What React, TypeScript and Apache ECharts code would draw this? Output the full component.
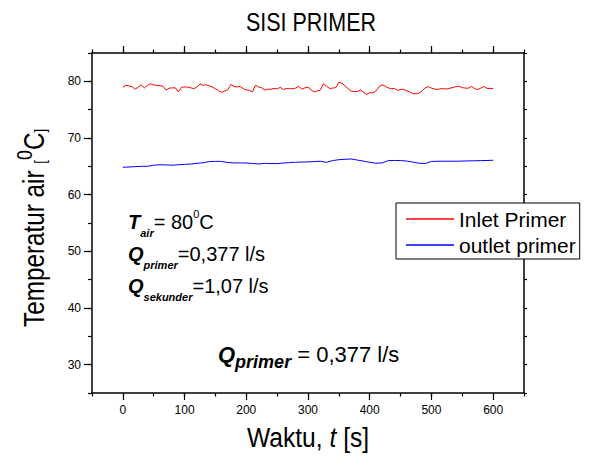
import { useEffect, useRef } from "react";
import * as echarts from "echarts";

// Measured temperatures, sampled every 5 s (inlet) and every 10 s (outlet)
const inletStep = 5;
const inletPrimer = [
  78.95, 79.3, 79.2, 79.05, 78.6, 79.0, 79.35, 78.85, 79.3, 79.55,
  79.35, 79.3, 79.25, 79.1, 78.45, 78.8, 78.85, 78.85, 78.15, 78.95,
  79.0, 79.0, 78.85, 78.7, 79.0, 79.55, 79.3, 79.4, 79.2, 79.0,
  78.7, 78.35, 78.05, 78.3, 78.5, 79.45, 79.1, 79.0, 79.1, 78.7,
  78.5, 78.4, 78.15, 79.3, 79.0, 78.85, 78.45, 78.6, 78.6, 78.75,
  78.65, 78.95, 78.55, 78.75, 78.7, 78.7, 78.8, 79.1, 78.6, 78.85,
  79.0, 78.5, 78.1, 78.3, 78.45, 79.55, 79.15, 78.75, 78.8, 78.9,
  79.85, 79.65, 79.2, 78.7, 78.25, 78.2, 78.2, 78.45, 78.1, 77.7,
  78.0, 77.95, 78.3, 79.0, 79.4, 79.15, 78.85, 78.7, 78.75, 78.4,
  78.55, 78.6, 78.35, 78.1, 77.85, 77.8, 77.95, 78.3, 78.85, 79.05,
  78.8, 78.65, 78.55, 78.7, 78.7, 78.65, 78.8, 78.9, 79.1, 79.1,
  78.9, 78.8, 78.8, 79.1, 78.7, 78.55, 78.8, 79.1, 78.75, 78.75,
  78.7,
];

const outletStep = 10;
const outletPrimer = [
  64.84, 64.88, 64.95, 65.0, 65.01, 65.2, 65.28, 65.25, 65.2, 65.28,
  65.35, 65.4, 65.54, 65.62, 65.84, 65.88, 65.86, 65.68, 65.6, 65.6,
  65.58, 65.5, 65.42, 65.52, 65.5, 65.48, 65.58, 65.66, 65.72, 65.76,
  65.78, 65.84, 65.9, 65.7, 66.02, 66.17, 66.25, 66.3, 66.1, 65.92,
  65.72, 65.55, 65.6, 66.0, 66.04, 66.02, 65.93, 65.75, 65.55, 65.5,
  65.86, 65.9, 65.9, 65.9, 65.9, 65.93, 65.96, 65.98, 66.01, 66.03,
  66.07,
];

const seriesNames = ["Inlet Primer", "outlet primer"];
const seriesColors = ["#ff0000", "#0000ff"];
const xMajorTicks = [0, 100, 200, 300, 400, 500, 600];
const yMajorTicks = [30, 40, 50, 60, 70, 80];

const FONT = "Arial, 'Liberation Sans', sans-serif";
const INK = "#000";

const frameLine = { show: true, onZero: false, lineStyle: { color: INK, width: 1.5 } };
const tickStyle = { color: INK, width: 1.2 };

function toPairs(values: number[], step: number) {
  return values.map((v, i) => [i * step, v]);
}

export default function App() {
  const ref = useRef<HTMLDivElement>(null);

  useEffect(() => {
    if (!ref.current) return;
    const chart = echarts.init(ref.current, undefined, { renderer: "svg" });

    const xBase = { type: "value" as const, min: -50, max: 650, splitLine: { show: false } };
    const yBase = { type: "value" as const, min: 25, max: 85, splitLine: { show: false } };

    const bi = { fontFamily: FONT, fontWeight: "bold", fontStyle: "italic", fill: INK };
    const rg = { fontFamily: FONT, fill: INK };

    const noteRich = {
      q: { ...bi, fontSize: 20, padding: [4, 0, 6, 0], verticalAlign: "middle" },
      sub: { ...bi, fontSize: 11, verticalAlign: "bottom" },
      r: { ...rg, fontSize: 20, padding: [4, 0, 6, 0], verticalAlign: "middle" },
      sup: { ...rg, fontSize: 11, verticalAlign: "top" },
    };

    chart.setOption({
      animation: false,
      backgroundColor: "#fff",
      grid: { left: 92, right: 65, top: 53, bottom: 64, containLabel: false },
      xAxis: [
        {
          ...xBase, position: "bottom", interval: 50,
          axisLine: frameLine,
          axisTick: { show: true, length: 3.5, lineStyle: tickStyle },
          axisLabel: { show: false },
        },
        {
          ...xBase, position: "bottom",
          axisLine: { show: false, onZero: false },
          axisTick: { show: true, length: 7, customValues: xMajorTicks, lineStyle: tickStyle },
          axisLabel: { show: true, customValues: xMajorTicks, margin: 11, fontSize: 12, color: INK, fontFamily: FONT },
        },
        {
          ...xBase, position: "top", interval: 50,
          axisLine: frameLine,
          axisTick: { show: true, length: 3.5, lineStyle: tickStyle },
          axisLabel: { show: false },
        },
        {
          ...xBase, position: "top",
          axisLine: { show: false, onZero: false },
          axisTick: { show: true, length: 7, customValues: xMajorTicks, lineStyle: tickStyle },
          axisLabel: { show: false },
        },
      ],
      yAxis: [
        {
          ...yBase, position: "left", interval: 5,
          axisLine: frameLine,
          axisTick: { show: true, length: 4, lineStyle: tickStyle },
          axisLabel: { show: false },
        },
        {
          ...yBase, position: "left",
          axisLine: { show: false, onZero: false },
          axisTick: { show: true, length: 8, customValues: yMajorTicks, lineStyle: tickStyle },
          axisLabel: { show: true, customValues: yMajorTicks, margin: 11, fontSize: 12, color: INK, fontFamily: FONT },
        },
        {
          ...yBase, position: "right", interval: 5,
          axisLine: frameLine,
          axisTick: { show: true, length: 3, lineStyle: tickStyle },
          axisLabel: { show: false },
        },
      ],
      legend: {
        orient: "vertical",
        left: 396,
        top: 203,
        icon: "rect",
        itemWidth: 48,
        itemHeight: 1.3,
        itemGap: 4,
        padding: [5, 4, 3, 10],
        backgroundColor: "#fff",
        borderColor: INK,
        borderWidth: 1,
        borderRadius: 0,
        z: 10,
        textStyle: { fontSize: 21, lineHeight: 22, color: INK, fontFamily: FONT },
        data: seriesNames,
      },
      series: seriesNames.map((name, k) => ({
        name,
        type: "line",
        xAxisIndex: 0,
        yAxisIndex: 0,
        symbol: "none",
        showSymbol: false,
        lineStyle: { color: seriesColors[k], width: 1 },
        itemStyle: { color: seriesColors[k] },
        data: k === 0 ? toPairs(inletPrimer, inletStep) : toPairs(outletPrimer, outletStep),
      })),
      graphic: [
        {
          type: "text",
          x: 311,
          y: 22,
          scaleX: 0.86,
          style: { text: "SISI PRIMER", fontSize: 25, fontFamily: FONT, fill: INK, align: "center", verticalAlign: "middle" },
        },
        {
          type: "text",
          x: 308,
          y: 437,
          scaleX: 0.88,
          style: {
            text: "{r|Waktu, }{i|t}{r| [s]}",
            align: "center",
            verticalAlign: "middle",
            rich: {
              r: { ...rg, fontSize: 28 },
              i: { ...rg, fontSize: 28, fontStyle: "italic" },
            },
          },
        },
        {
          type: "text",
          x: 31,
          y: 228,
          rotation: Math.PI / 2,
          scaleX: 0.81,
          style: {
            text: "{r|Temperatur air }{b|[}{sup|0}{r|C}{b|]}",
            align: "center",
            verticalAlign: "middle",
            rich: {
              r: { ...rg, fontSize: 30, padding: [6, 0, 0, 0], verticalAlign: "bottom" },
              b: { ...rg, fontSize: 16, verticalAlign: "bottom" },
              sup: { ...rg, fontSize: 22, verticalAlign: "top" },
            },
          },
        },
        {
          type: "text",
          x: 128,
          y: 223,
          style: { text: "{q|T}{sub|air}{r|= 80}{sup|0}{r|C}", align: "left", verticalAlign: "middle", rich: noteRich },
        },
        {
          type: "text",
          x: 128,
          y: 255,
          style: { text: "{q|Q}{sub|primer}{r|=0,377 l/s}", align: "left", verticalAlign: "middle", rich: noteRich },
        },
        {
          type: "text",
          x: 128,
          y: 287,
          style: { text: "{q|Q}{sub|sekunder}{r|=1,07 l/s}", align: "left", verticalAlign: "middle", rich: noteRich },
        },
        {
          type: "text",
          x: 218,
          y: 357,
          style: {
            text: "{q|Q}{p|primer}{r| = 0,377 l/s}",
            align: "left",
            verticalAlign: "middle",
            rich: {
              q: { ...bi, fontSize: 22, padding: [0, 0, 5, 0], verticalAlign: "top" },
              p: { ...bi, fontSize: 18, verticalAlign: "bottom" },
              r: { ...rg, fontSize: 22, padding: [0, 0, 5, 0], verticalAlign: "top" },
            },
          },
        },
      ],
    });

    return () => chart.dispose();
  }, []);

  return (
    <div
      ref={ref}
      style={{ position: "absolute", left: 0, top: 0, width: 589, height: 457 }}
    />
  );
}
